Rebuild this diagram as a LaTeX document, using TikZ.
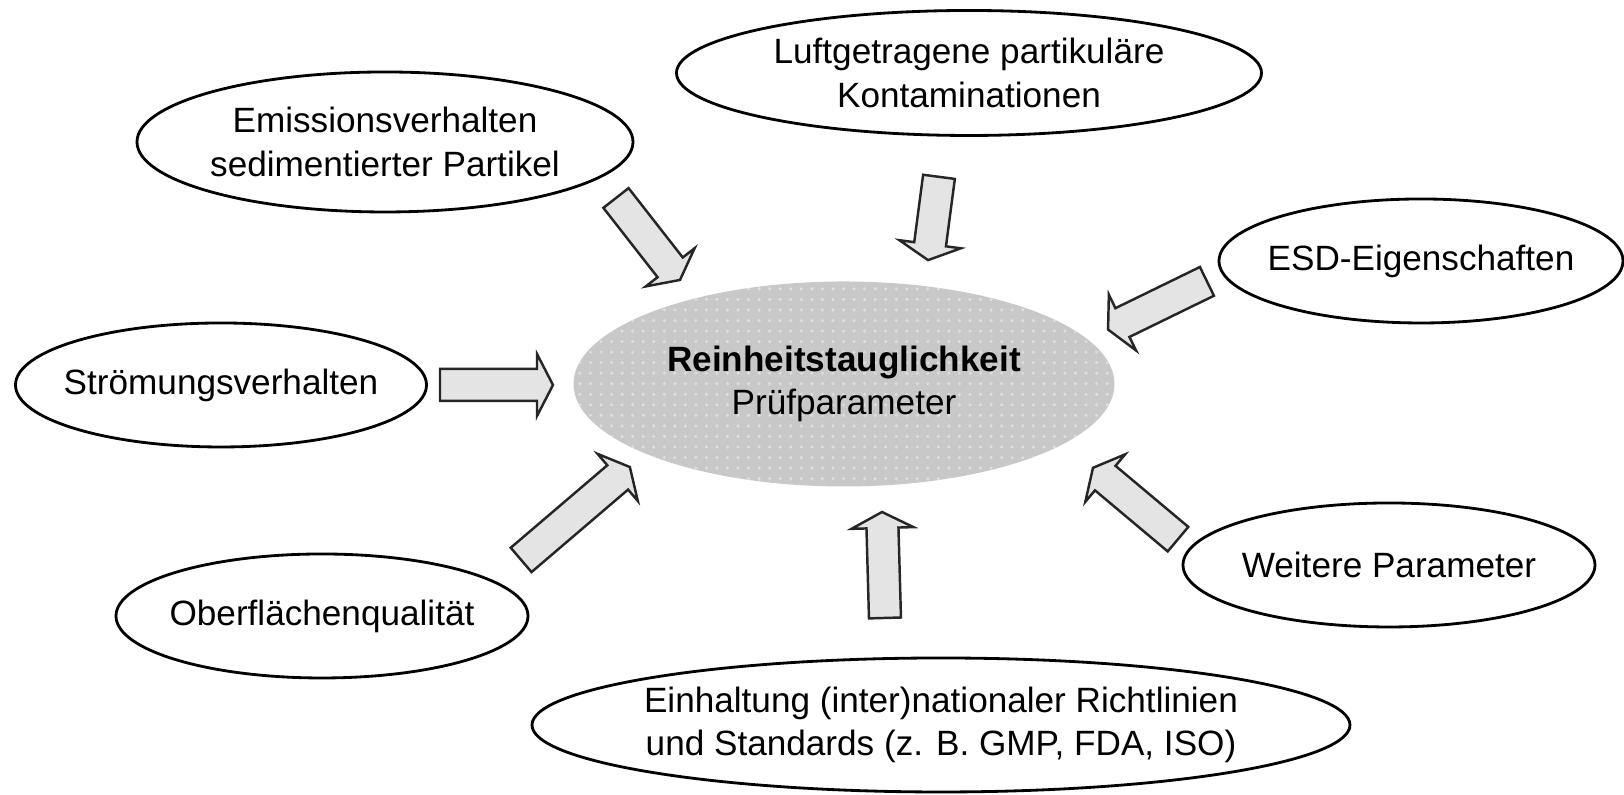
\documentclass[tikz,border=0pt]{standalone}
\usepackage{fontspec}
\setmainfont{Liberation Sans}
\usetikzlibrary{shapes.geometric,patterns}
\definecolor{kerngrau}{RGB}{200,200,200}
\definecolor{pfeilgrau}{RGB}{228,228,228}
\tikzset{pics/pfeil/.style={code={
  \draw[draw=black!85,line width=0.7pt,fill=pfeilgrau,line join=miter]
    (-#1/2,-0.16) -- (#1/2-0.16,-0.16) -- (#1/2-0.16,-0.31) -- (#1/2,0)
    -- (#1/2-0.16,0.31) -- (#1/2-0.16,0.16) -- (-#1/2,0.16) -- cycle;}}}
\begin{document}
\begin{tikzpicture}[thema/.style={ellipse,draw,line width=0.8pt,inner xsep=-1.5cm,inner ysep=0pt,align=center,font=\fontsize{10}{12.4}\selectfont}]
\useasboundingbox (0,0) rectangle (16.24,7.95);
\node[thema,draw=none,preaction={fill=kerngrau},pattern=dots,pattern color=white!40!kerngrau,minimum width=5.41cm,minimum height=2.05cm] (kern) at (8.44,4.11) {\textbf{Reinheitstauglichkeit}\\Prüfparameter};
\node[thema,minimum width=4.96cm,minimum height=1.40cm] (emis) at (3.85,6.53) {Emissionsverhalten\\sedimentierter Partikel};
\node[thema,minimum width=5.85cm,minimum height=1.25cm] (luft) at (9.69,7.22) {Luftgetragene partikuläre\\Kontaminationen};
\node[thema,minimum width=4.04cm,minimum height=1.24cm] (esd) at (14.21,5.34) {ESD-Eigenschaften};
\node[thema,minimum width=4.11cm,minimum height=1.24cm] (stroem) at (2.21,4.10) {Strömungsverhalten};
\node[thema,minimum width=4.12cm,minimum height=1.24cm] (ober) at (3.22,1.79) {Oberflächenqualität};
\node[thema,minimum width=4.12cm,minimum height=1.24cm] (weitere) at (13.89,2.30) {Weitere Parameter};
\node[thema,minimum width=8.18cm,minimum height=1.34cm] (norm) at (9.41,0.70) {Einhaltung (inter)nationaler Richtlinien\\und Standards (z. B. GMP, FDA, ISO)};
% Blockpfeile zum Kern
\foreach \x/\y/\l/\a [count=\i] in {6.48/5.56/1.04/-52, 9.335/5.765/0.84/-97.5, 11.575/4.895/1.10/206,
  4.965/4.10/1.13/0, 5.755/2.815/1.43/40.5, 8.835/2.30/1.06/91.6, 11.355/2.915/1.11/140}
  {\pic[rotate=\a] (p\i) at (\x,\y) {pfeil=\l};}
\end{tikzpicture}
\end{document}
